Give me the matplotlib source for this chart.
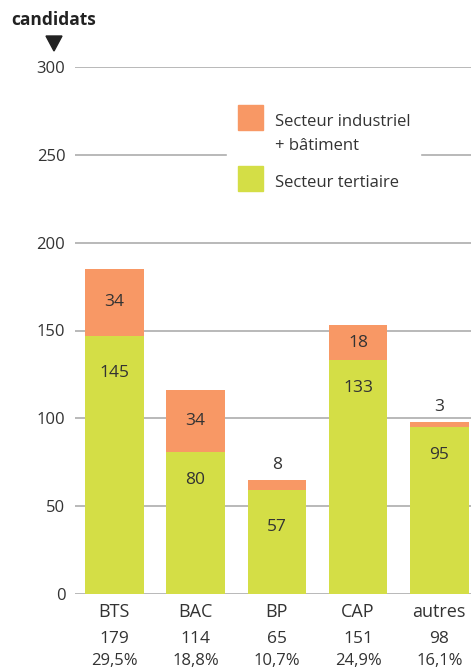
import matplotlib
matplotlib.use("Agg")
import matplotlib.pyplot as plt
from matplotlib.patches import Rectangle, Polygon

plt.rcParams['font.family'] = ['Open Sans', 'DejaVu Sans']

# data
categories = ["BTS", "BAC", "BP", "CAP", "autres"]
tertiaire = [147, 81, 59, 133, 95]        # bar heights (green)
industriel = [38, 35, 6, 20, 3]           # bar heights (orange)
tertiaire_lbl = ["145", "80", "57", "133", "95"]
industriel_lbl = ["34", "34", "8", "18", "3"]
totals = ["179", "114", "65", "151", "98"]
percents = ["29,5%", "18,8%", "10,7%", "24,9%", "16,1%"]

green = "#D4DE46"
orange = "#F89865"
txt = "#333333"
grid = "#b3b3b3"

W, H = 471, 672
fig = plt.figure(figsize=(W / 100, H / 100), dpi=100)
ax = fig.add_axes([75 / W, 1 - 594 / H, (471 - 75) / W, (594 - 67) / H])

x = list(range(len(categories)))
ax.bar(x, tertiaire, width=0.72, color=green, zorder=3)
ax.bar(x, industriel, bottom=tertiaire, width=0.72, color=orange, zorder=3)

for i in x:
    top = tertiaire[i] + industriel[i]
    if industriel[i] >= 15:
        ax.text(i, tertiaire[i] + industriel[i] / 2, industriel_lbl[i], ha="center", va="center",
                fontsize=12.5, color=txt, zorder=4)
    else:
        ax.annotate(industriel_lbl[i], (i, top), xytext=(0, 7), textcoords="offset pixels",
                    ha="center", va="bottom", fontsize=12.5, color=txt)
    ax.annotate(tertiaire_lbl[i], (i, tertiaire[i]), xytext=(0, -37 if i in (0, 2) else -28),
                textcoords="offset pixels", ha="center", va="center", fontsize=12.5, color=txt, zorder=4)

ax.set_xlim(-0.483, 4.39)
ax.set_ylim(0, 300)
ax.set_yticks(range(0, 301, 50))
ax.yaxis.grid(True, color=grid, linewidth=1.3, zorder=0)
ax.set_axisbelow(True)
for s in ax.spines.values():
    s.set_visible(False)
ax.tick_params(axis="y", length=0, pad=7, labelsize=12, labelcolor=txt)
ax.set_xticks([])

for i in x:
    ax.annotate(categories[i], (i, 0), xytext=(0, -18), textcoords="offset pixels",
                ha="center", va="center", fontsize=13, color=txt, annotation_clip=False)
    ax.annotate(totals[i], (i, 0), xytext=(0, -45), textcoords="offset pixels",
                ha="center", va="center", fontsize=12.5, color=txt, annotation_clip=False)
    ax.annotate(percents[i], (i, 0), xytext=(0, -67), textcoords="offset pixels",
                ha="center", va="center", fontsize=12, color=txt, annotation_clip=False)

# title and arrow
fig.text(11 / W, 1 - 20 / H, "candidats", fontsize=12.5, fontweight="bold", color="#222222",
         ha="left", va="center")
fig.add_artist(Polygon([[46 / W, 1 - 36 / H], [62 / W, 1 - 36 / H], [54 / W, 1 - 51 / H]],
                       closed=True, color="#222222", transform=fig.transFigure))

# legend
fig.add_artist(Rectangle((227 / W, 1 - 200 / H), (420 - 227) / W, 105 / H, color="white",
                         transform=fig.transFigure, zorder=2))
fig.add_artist(Rectangle((238 / W, 1 - 130 / H), 25 / W, 25 / H, color=orange,
                         transform=fig.transFigure, zorder=3))
fig.add_artist(Rectangle((238 / W, 1 - 191 / H), 25 / W, 25 / H, color=green,
                         transform=fig.transFigure, zorder=3))
fig.text(275 / W, 1 - 122 / H, "Secteur industriel", fontsize=12, color=txt, va="center", zorder=4)
fig.text(275 / W, 1 - 146 / H, "+ bâtiment", fontsize=12, color=txt, va="center", zorder=4)
fig.text(275 / W, 1 - 183 / H, "Secteur tertiaire", fontsize=12, color=txt, va="center", zorder=4)

fig.savefig("out.png", dpi=100)
